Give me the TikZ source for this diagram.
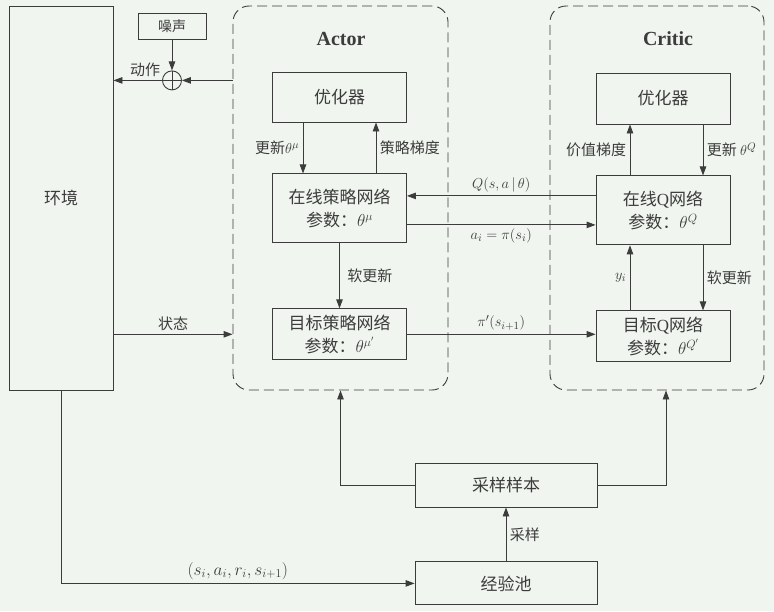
\documentclass[tikz,border=0pt]{standalone}
\usepackage{fontspec}
\setmainfont{Liberation Serif}
\newfontfamily\cjk{Noto Sans CJK SC}
\usepackage{tikz}
\usetikzlibrary{arrows.meta,positioning}
\definecolor{bgmint}{RGB}{240,245,239}
\definecolor{inkgray}{RGB}{60,60,60}

\begin{document}
\begin{tikzpicture}[
  x=1pt, y=-1pt,
  every node/.style={font=\fontsize{15}{18}\selectfont\cjk, text=inkgray},
  block/.style={draw=inkgray, line width=0.9pt, align=center, minimum width=134pt, font=\fontsize{17}{23}\selectfont\cjk},
  dashframe/.style={draw=inkgray, line width=0.9pt, dash pattern=on 10pt off 5pt, rounded corners=16pt, minimum width=215pt, minimum height=384pt},
  title/.style={font=\fontsize{20}{24}\selectfont\bfseries},
  edge/.style={-{Triangle[length=9pt,width=6.5pt]}, draw=inkgray, line width=0.9pt}
]
\fill[bgmint] (0,0) rectangle (774,611);

% environment, noise and the adder
\node[block, minimum width=104pt, minimum height=384pt] (env) at (61,198) {环境};
\node[block, minimum width=68pt, minimum height=26pt, font=\fontsize{14}{16}\selectfont\cjk] (noise) at (172,26) {噪声};
\node[draw=inkgray, line width=0.9pt, circle, minimum size=19pt, inner sep=0pt, below=31pt of noise,
  path picture={\draw[inkgray, line width=0.9pt] (path picture bounding box.north) -- (path picture bounding box.south)
    (path picture bounding box.west) -- (path picture bounding box.east);}] (sum) {};

% actor and critic groups
\node[dashframe] (actorbox) at (340.5,198) {};
\node[dashframe, minimum width=214pt] (criticbox) at (657,198) {};
\node[title] (actortitle) at (341,39) {Actor};
\node[title] (critictitle) at (668,39) {Critic};

\node[block, minimum height=50pt] (aopt) at (339.5,97) {优化器};
\node[block, minimum height=69pt, below=51pt of aopt] (aonline) {在线策略网络\\参数：$\theta^{\mu}$};
\node[block, minimum height=51pt, below=65pt of aonline] (atarget) {目标策略网络\\参数：$\theta^{\mu'}$};

\node[block, minimum height=51pt] (copt) at (663,98.5) {优化器};
\node[block, minimum height=69pt, below=51pt of copt] (conline) {在线\textrm{Q}网络\\参数：$\theta^{Q}$};
\node[block, minimum height=51pt, below=65pt of conline] (ctarget) {目标\textrm{Q}网络\\参数：$\theta^{Q'}$};

% replay memory
\node[block, minimum width=182pt, minimum height=44pt] (sample) at (506,485) {采样样本};
\node[block, minimum width=182pt, minimum height=43pt, below=54pt of sample] (buffer) {经验池};

% connectors
\draw[edge] (noise) -- (sum);
\draw[edge] (actorbox.west |- sum) -- (sum);
\draw[edge] (sum) -- node[pos=0.35, above] {动作} (env.east |- sum);
\draw[edge] (env.east |- atarget) -- node[above] {状态} (actorbox.west |- atarget);

\draw[edge] ([xshift=-36.5pt]aopt.south) -- node[left] {更新$\theta^{\mu}$} ([xshift=-36.5pt]aonline.north);
\draw[edge] ([xshift=36.5pt]aonline.north) -- node[right] {策略梯度} ([xshift=36.5pt]aopt.south);
\draw[edge] (aonline) -- node[right, xshift=4pt] {软更新} (atarget);

\draw[edge] ([xshift=-33pt]conline.north) -- node[left] {价值梯度} ([xshift=-33pt]copt.south);
\draw[edge] ([xshift=40pt]copt.south) -- node[right] {更新 $\theta^{Q}$} ([xshift=40pt]conline.north);
\draw[edge] ([xshift=-33pt]ctarget.north) -- node[left] {$y_i$} ([xshift=-33pt]conline.south);
\draw[edge] ([xshift=40pt]conline.south) -- node[right] {软更新} ([xshift=40pt]ctarget.north);

\draw[edge] ([yshift=14.5pt]conline.west) -- node[above] {$Q(s,a\,|\,\theta)$} ([yshift=12.5pt]aonline.east);
\draw[edge] ([yshift=-16.5pt]aonline.east) -- node[below] {$a_i=\pi(s_i)$} ([yshift=-14.5pt]conline.west);
\draw[edge] (atarget.east) -- node[above] {$\pi'(s_{i+1})$} (atarget.east -| ctarget.west);

\draw[edge] (sample.west) -| (actorbox.south);
\draw[edge] (sample.east) -| ([xshift=9pt]criticbox.south);
\draw[edge] (buffer) -- node[right] {采样} (sample);
\draw[edge] (env.south) |- node[pos=0.75, above, font=\fontsize{18}{20}\selectfont] {$(s_i,a_i,r_i,s_{i+1})$} (buffer.west);
\end{tikzpicture}
\end{document}
